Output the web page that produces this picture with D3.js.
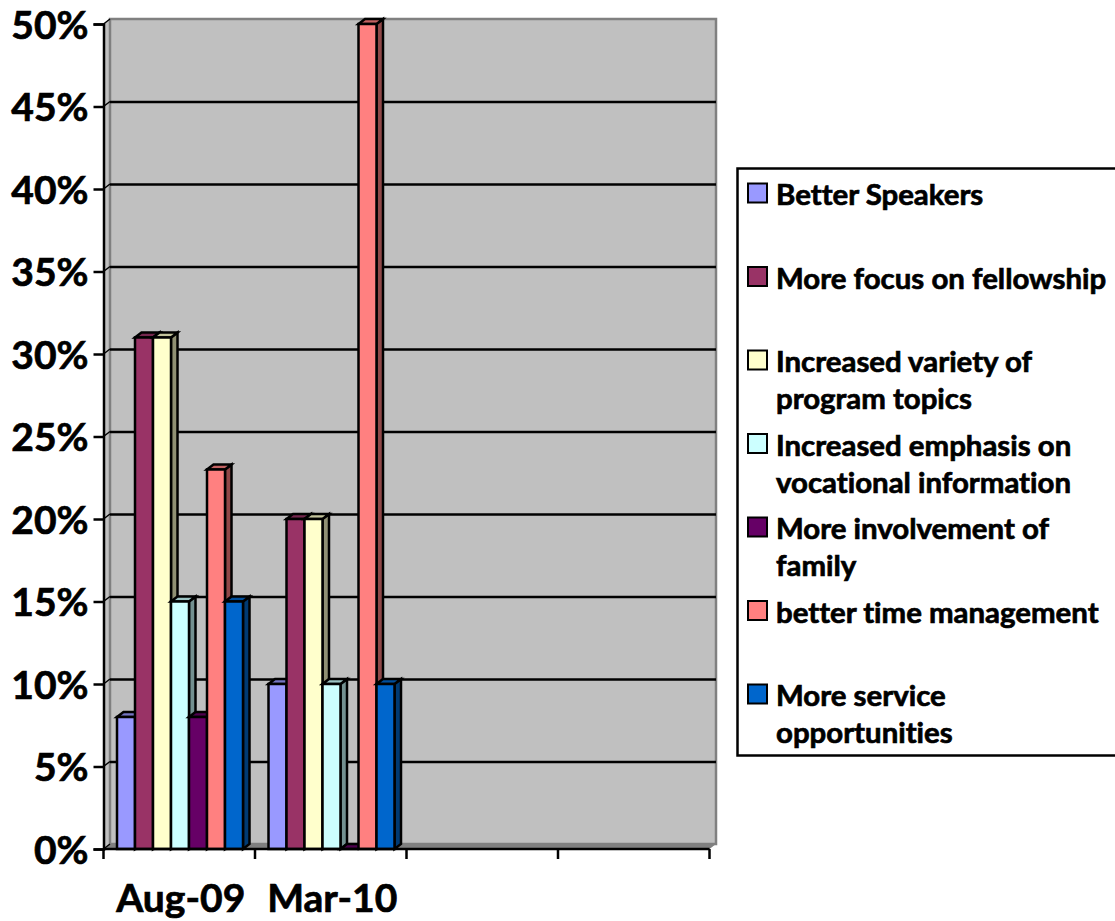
<!DOCTYPE html>
<html><head><meta charset="utf-8">
<script src="https://cdn.jsdelivr.net/npm/d3@7"></script>
<style>html,body{margin:0;padding:0;background:#fff}svg{display:block}text{font-family:Lato,"Open Sans",sans-serif;font-weight:700;fill:#000;stroke:#000;stroke-width:0.7px;font-variant-ligatures:none}</style>
</head><body><svg id="c" width="1115" height="921"></svg>
<script>
const categories = ["Aug-09","Mar-10","c3","c4"];
const categoryLabels = ["Aug-09","Mar-10","",""];
const seriesNames = ["Better Speakers","More focus on fellowship","Increased variety of|program topics","Increased emphasis on|vocational information","More involvement of|family","better time management","More service|opportunities"];
const seriesColors = ["#9999FF","#993366","#FFFFCC","#CCFFFF","#660066","#FF8080","#0066CC"];
const aug09 = [8,31,31,15,8,23,15];
const mar10 = [10,20,20,10,0,50,10];
const yTicks = [0,5,10,15,20,25,30,35,40,45,50];

const W=1115,H=921,dx=6.5,dy=5;
const x0=103.5,x1=709.5,y0=849,y1=24;
const svg=d3.select("#c");
const y=d3.scaleLinear().domain([0,50]).range([y0,y1]);
const x=d3.scaleBand().domain(categories).range([x0,x1]);
const sx=d3.scaleBand().domain(d3.range(seriesNames.length)).range([13.5,139.5]);
const shade=(c,k)=>d3.rgb(c).darker(k).formatHex();
const poly=(g,pts,fill,stroke,sw)=>g.append("polygon").attr("points",pts.map(p=>p.join(",")).join(" ")).attr("fill",fill).attr("stroke",stroke).attr("stroke-width",sw).attr("stroke-linejoin","miter");

const wall=svg.append("g");
poly(wall,[[x0,y0],[x0+dx,y0-dy],[x0+dx,y1-dy],[x0,y1]],"#C0C0C0","none",0);
poly(wall,[[x0,y0],[x1,y0],[x1+dx,y0-dy],[x0+dx,y0-dy]],"#808080","none",0);
poly(wall,[[x0+dx,y0-dy],[x1+dx,y0-dy],[x1+dx,y1-dy],[x0+dx,y1-dy]],"#C0C0C0","#808080",2.5);

wall.selectAll("line.grid").data(yTicks.filter(v=>v>0&&v<50)).join("line").attr("class","grid")
  .attr("x1",x0+dx).attr("x2",x1+dx).attr("y1",v=>y(v)-dy+0.5).attr("y2",v=>y(v)-dy+0.5)
  .attr("stroke","#000").attr("stroke-width",2.5);
wall.selectAll("line.diag").data(yTicks).join("line").attr("class","diag")
  .attr("x1",x0).attr("x2",x0+dx).attr("y1",v=>y(v)).attr("y2",v=>y(v)-dy)
  .attr("stroke","#000").attr("stroke-width",1.5);

const barsG=svg.append("g");
const rows=[aug09,mar10];
rows.forEach((vals,ci)=>{
  vals.forEach((v,si)=>{
    const c=seriesColors[si],L=x(categories[ci])+sx(si),R=L+sx.bandwidth(),T=y(v),B=y(0);
    const g=barsG.append("g");
    poly(g,[[R,B],[R+dx,B-dy],[R+dx,T-dy],[R,T]],shade(c,1.6),"#000",2.5);
    poly(g,[[L,T],[L+dx,T-dy],[R+dx,T-dy],[R,T]],shade(c,0.75),"#000",2.5);
    if(v>0) poly(g,[[L,B],[R,B],[R,T],[L,T]],c,"#000",2.5);
  });
});

const yAxis=d3.axisLeft(y).tickValues(yTicks).tickFormat(v=>v+"%").tickSize(10).tickPadding(5);
const ya=svg.append("g").attr("transform",`translate(${x0},0)`).call(yAxis);
ya.selectAll("path,line").attr("stroke","#000").attr("stroke-width",2.5);
ya.selectAll("text").attr("font-size",39).attr("dy","0.36em");
ya.attr("font-family",null);

const xa=svg.append("g");
xa.append("line").attr("x1",x0).attr("x2",x1).attr("y1",y0).attr("y2",y0).attr("stroke","#000").attr("stroke-width",2.5);
xa.selectAll("line.t").data(categories.map(c=>x(c)).concat([x1])).join("line").attr("class","t")
  .attr("x1",d=>d).attr("x2",d=>d).attr("y1",y0).attr("y2",y0+10).attr("stroke","#000").attr("stroke-width",2.5);
xa.selectAll("text").data(categories).join("text")
  .attr("x",c=>x(c)+x.bandwidth()/2+1.5).attr("y",912).attr("text-anchor","middle").attr("font-size",39)
  .text((c,i)=>categoryLabels[i]);

const lg=svg.append("g");
lg.append("rect").attr("x",737.5).attr("y",168.5).attr("width",W).attr("height",587).attr("fill","#fff").attr("stroke","#000").attr("stroke-width",2.5);
const ly=d3.scalePoint().domain(seriesNames).range([193,694]);
const rowsG=lg.selectAll("g.r").data(seriesNames).join("g").attr("class","r").attr("transform",d=>`translate(0,${ly(d)})`);
rowsG.append("rect").attr("x",748).attr("y",-9.5).attr("width",19).attr("height",19)
  .attr("fill",(d,i)=>seriesColors[i]).attr("stroke","#000").attr("stroke-width",2);
rowsG.each(function(d){
  d.split("|").forEach((t,i)=>d3.select(this).append("text").attr("x",776).attr("y",12+i*37).attr("font-size",29.4).text(t));
});
</script></body></html>
